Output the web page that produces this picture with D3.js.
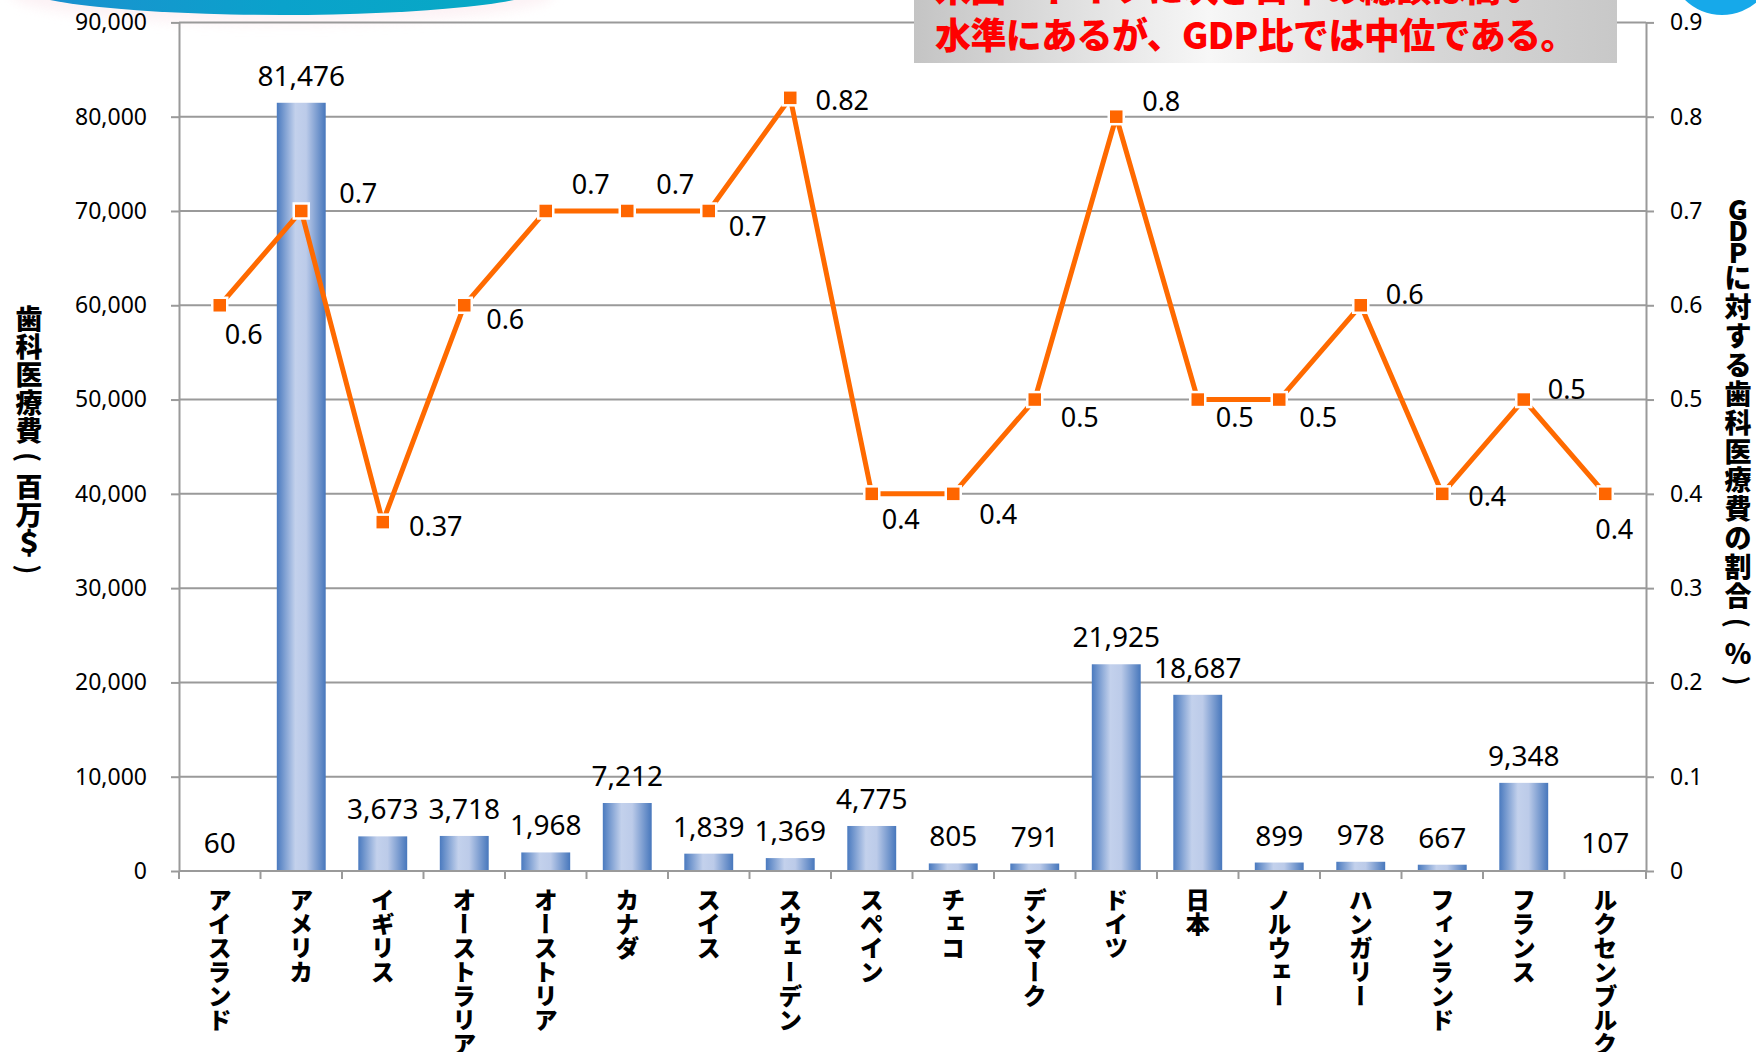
<!DOCTYPE html>
<html lang="ja">
<head>
<meta charset="utf-8">
<script src="https://cdn.jsdelivr.net/npm/d3@7"></script>
<style>
  html, body { margin: 0; padding: 0; background: #fff; }
  svg { display: block; }
  .jp { font-family: "Noto Sans CJK JP", "Noto Sans", sans-serif; }
  .num { font-family: "Noto Sans", "Open Sans", sans-serif; }
  .vert { writing-mode: vertical-rl; text-orientation: upright; }
</style>
</head>
<body>
<svg id="chart" width="1756" height="1052"></svg>
<script>
// Countries along the category axis
const categories = ["アイスランド", "アメリカ", "イギリス", "オーストラリア", "オーストリア", "カナダ",
  "スイス", "スウェーデン", "スペイン", "チェコ", "デンマーク", "ドイツ", "日本", "ノルウェー",
  "ハンガリー", "フィンランド", "フランス", "ルクセンブルク"];

// Dental expenditure (million US$) — bars, left axis
const dentalSpending = [60, 81476, 3673, 3718, 1968, 7212, 1839, 1369, 4775, 805, 791,
  21925, 18687, 899, 978, 667, 9348, 107];

// Dental expenditure as share of GDP (%) — line, right axis
const gdpShare = [0.6, 0.7, 0.37, 0.6, 0.7, 0.7, 0.7, 0.82, 0.4, 0.4, 0.5, 0.8, 0.5, 0.5,
  0.6, 0.4, 0.5, 0.4];

// Axis tick values
const leftTicks = [0, 10000, 20000, 30000, 40000, 50000, 60000, 70000, 80000, 90000];
const rightTicks = [0, 0.1, 0.2, 0.3, 0.4, 0.5, 0.6, 0.7, 0.8, 0.9];

// Titles
const leftTitle = "歯科医療費(百万＄)";
const rightTitle = "GDPに対する歯科医療費の割合(％)";
const headline = ["米国・ドイツに次ぎ日本の総額は高い", "水準にあるが、GDP比では中位である。"];

// Where each percentage label sits relative to its marker (dx, dy of the label centre)
const lineLabelOffsets = [[24, 28], [57, -18], [53, 3], [41, 13], [45, -27], [48, -27],
  [39, 15], [52, 2], [29, 25], [45, 20], [45, 17], [45, -16], [37, 17], [39, 17],
  [44, -12], [45, 2], [43, -11], [9, 35]];

const svg = d3.select("#chart");
const plot = { left: 179, right: 1646, top: 22.4, bottom: 871 };

const x = d3.scaleBand().domain(categories).range([plot.left, plot.right])
  .paddingInner(0.4).paddingOuter(0.2);
const yL = d3.scaleLinear().domain([0, 90000]).range([plot.bottom, plot.top]);
const yR = d3.scaleLinear().domain([0, 0.9]).range([plot.bottom, plot.top]);

const defs = svg.append("defs");
const barGrad = defs.append("linearGradient").attr("id", "barGrad")
  .attr("x1", "0%").attr("x2", "100%").attr("y1", "0%").attr("y2", "0%");
[[0, "#4a7abf"], [0.38, "#c3d1ec"], [0.6, "#bccbe9"], [1, "#4777bc"]].forEach(([o, c]) =>
  barGrad.append("stop").attr("offset", o).attr("stop-color", c));

const boxGrad = defs.append("linearGradient").attr("id", "boxGrad")
  .attr("x1", "0%").attr("x2", "100%");
[[0, "#c4c4c4"], [0.42, "#f7f7f7"], [0.75, "#d6d6d6"], [1, "#c8c8c8"]].forEach(([o, c]) =>
  boxGrad.append("stop").attr("offset", o).attr("stop-color", c));

const capGrad = defs.append("linearGradient").attr("id", "capGrad")
  .attr("x1", "0%").attr("x2", "100%");
[[0, "#1d8fd0"], [0.5, "#0aa2cb"], [1, "#07aac4"]].forEach(([o, c]) =>
  capGrad.append("stop").attr("offset", o).attr("stop-color", c));

defs.append("filter").attr("id", "soft").attr("x", "-20%").attr("y", "-200%")
  .attr("width", "140%").attr("height", "500%")
  .append("feGaussianBlur").attr("stdDeviation", 6);

// Decorative shapes at the top edge
svg.append("ellipse").attr("cx", 282).attr("cy", -6).attr("rx", 272).attr("ry", 30)
  .attr("fill", "#fbe9ee").attr("opacity", 0.6).attr("filter", "url(#soft)");
svg.append("ellipse").attr("cx", 282).attr("cy", -13).attr("rx", 262).attr("ry", 28)
  .attr("fill", "url(#capGrad)");
svg.append("circle").attr("cx", 1722).attr("cy", -38).attr("r", 53).attr("fill", "#16a9ea");

// Horizontal gridlines
svg.append("g").selectAll("line").data(leftTicks).join("line")
  .attr("x1", plot.left).attr("x2", plot.right)
  .attr("y1", d => yL(d)).attr("y2", d => yL(d))
  .attr("stroke", "#9a9a9a").attr("stroke-width", 2);

// Left axis
const leftAxis = svg.append("g").attr("transform", `translate(${plot.left},0)`)
  .call(d3.axisLeft(yL).tickValues(leftTicks).tickFormat(d3.format(","))
    .tickSizeInner(8).tickSizeOuter(0).tickPadding(24));
leftAxis.select(".domain").attr("stroke", "#9a9a9a").attr("stroke-width", 2);
leftAxis.selectAll(".tick line").attr("stroke", "#9a9a9a").attr("stroke-width", 2);
leftAxis.selectAll("text").attr("class", "num").attr("font-size", 23).attr("fill", "#000");

// Right axis
const rightAxis = svg.append("g").attr("transform", `translate(${plot.right},0)`)
  .call(d3.axisRight(yR).tickValues(rightTicks)
    .tickFormat(d => d === 0 ? "0" : d3.format(".1f")(d))
    .tickSizeInner(8).tickSizeOuter(0).tickPadding(16));
rightAxis.select(".domain").attr("stroke", "#9a9a9a").attr("stroke-width", 2);
rightAxis.selectAll(".tick line").attr("stroke", "#9a9a9a").attr("stroke-width", 2);
rightAxis.selectAll("text").attr("class", "num").attr("font-size", 23).attr("fill", "#000");

// Bars
svg.append("g").selectAll("rect").data(categories).join("rect")
  .attr("x", d => x(d))
  .attr("width", x.bandwidth())
  .attr("y", (d, i) => yL(dentalSpending[i]))
  .attr("height", (d, i) => yL(0) - yL(dentalSpending[i]))
  .attr("fill", "url(#barGrad)");

// Category axis with ticks at band boundaries
const step = x.step();
const half = step * x.paddingInner() / 2;
const bounds = categories.map(c => x(c) - half).concat([plot.right]);
const bottomAxis = svg.append("g");
bottomAxis.append("line").attr("x1", plot.left).attr("x2", plot.right)
  .attr("y1", yL(0)).attr("y2", yL(0)).attr("stroke", "#9a9a9a").attr("stroke-width", 2);
bottomAxis.selectAll("line.tk").data(bounds).join("line").attr("class", "tk")
  .attr("x1", d => d).attr("x2", d => d)
  .attr("y1", yL(0)).attr("y2", yL(0) + 8)
  .attr("stroke", "#9a9a9a").attr("stroke-width", 2);
bottomAxis.selectAll("text").data(categories).join("text")
  .attr("class", "jp vert")
  .attr("x", d => x(d) + x.bandwidth() / 2)
  .attr("y", yL(0) + 17)
  .attr("font-size", 24).attr("font-weight", 900).attr("fill", "#000")
  .text(d => d);

// Bar value labels
svg.append("g").selectAll("text").data(categories).join("text")
  .attr("class", "num")
  .attr("x", d => x(d) + x.bandwidth() / 2)
  .attr("y", (d, i) => yL(dentalSpending[i]) - 17)
  .attr("text-anchor", "middle").attr("font-size", 28).attr("fill", "#000")
  .text((d, i) => d3.format(",")(dentalSpending[i]));

// GDP share line with square markers
const pts = categories.map((c, i) => [x(c) + x.bandwidth() / 2, yR(gdpShare[i])]);
svg.append("path").datum(pts)
  .attr("d", d3.line())
  .attr("fill", "none").attr("stroke", "#ff6a00").attr("stroke-width", 5)
  .attr("stroke-linejoin", "round");
const ms = 15;
svg.append("g").selectAll("rect").data(pts).join("rect")
  .attr("x", d => d[0] - ms / 2).attr("y", d => d[1] - ms / 2)
  .attr("width", ms).attr("height", ms)
  .attr("fill", "#ff6600").attr("stroke", "#fff").attr("stroke-width", 2.5);

// Percentage labels
svg.append("g").selectAll("text").data(pts).join("text")
  .attr("class", "num")
  .attr("x", (d, i) => d[0] + lineLabelOffsets[i][0])
  .attr("y", (d, i) => d[1] + lineLabelOffsets[i][1])
  .attr("text-anchor", "middle").attr("dominant-baseline", "central")
  .attr("font-size", 27).attr("fill", "#000")
  .text((d, i) => String(gdpShare[i]));

// Vertical axis titles: one text per title, glyphs stacked as tspans;
// the brackets are drawn turned sideways as in vertical typesetting
function stackedTitle(text, cx, cy, size, pitch) {
  const chars = Array.from(text);
  const adv = chars.map(ch => /[A-Za-z]/.test(ch) ? size * 0.8 : size * pitch);
  const total = d3.sum(adv);
  const centres = [];
  let pos = cy - total / 2;
  adv.forEach(a => { centres.push(pos + a / 2); pos += a; });
  const isBracket = ch => ch === "(" || ch === ")";
  const t = svg.append("text").attr("class", "jp")
    .attr("text-anchor", "middle").attr("dominant-baseline", "central")
    .attr("font-size", size).attr("font-weight", 900).attr("fill", "#000");
  chars.forEach((ch, i) => {
    if (isBracket(ch)) return;
    t.append("tspan").attr("x", cx).attr("y", centres[i]).text(ch);
  });
  chars.forEach((ch, i) => {
    if (!isBracket(ch)) return;
    svg.append("text").attr("class", "jp")
      .attr("x", cx).attr("y", centres[i])
      .attr("text-anchor", "middle").attr("dominant-baseline", "central")
      .attr("font-size", size).attr("font-weight", 700).attr("fill", "#000")
      .attr("transform", `rotate(90,${cx},${centres[i]})`)
      .text(ch);
  });
}
stackedTitle(leftTitle, 29, 443, 27, 1.04);
stackedTitle(rightTitle, 1738, 446, 27, 1.07);

// Headline box
svg.append("rect").attr("x", 914).attr("y", -40).attr("width", 703).attr("height", 103)
  .attr("fill", "url(#boxGrad)");
svg.append("g").selectAll("text").data(headline).join("text")
  .attr("class", "jp")
  .attr("x", 935).attr("y", (d, i) => 2 + i * 47)
  .attr("font-size", 36).attr("font-weight", 900).attr("fill", "#ff0000")
  .attr("letter-spacing", -0.6)
  .text(d => d);
</script>
</body>
</html>
